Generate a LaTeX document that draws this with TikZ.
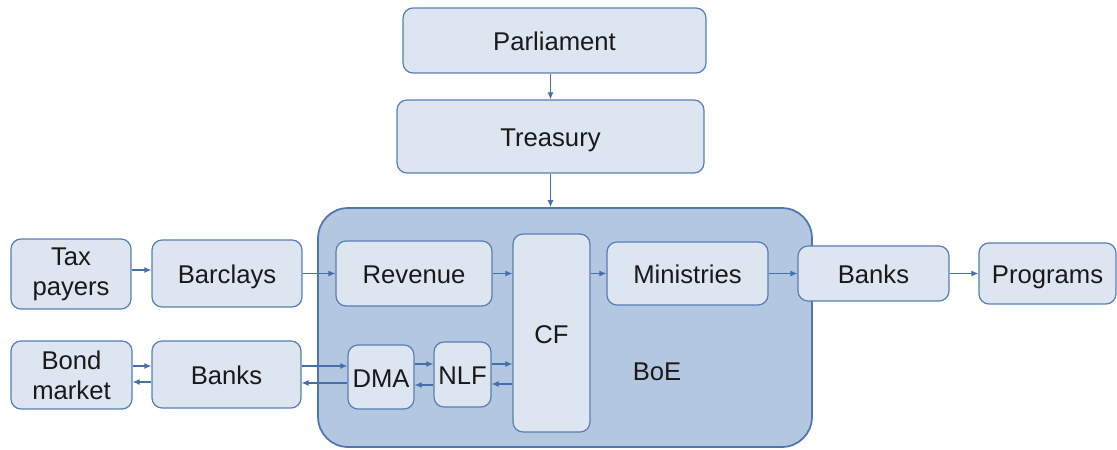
\documentclass[tikz,border=0pt]{standalone}
\usepackage{fontspec}
\setmainfont{Liberation Sans}
\usetikzlibrary{arrows.meta}

\definecolor{boxfill}{RGB}{221,229,240}
\definecolor{boxline}{RGB}{88,126,180}
\definecolor{boefill}{RGB}{180,199,224}
\definecolor{boeline}{RGB}{78,118,176}
\definecolor{flow}{RGB}{70,112,172}

\begin{document}
\begin{tikzpicture}[
  x=0.02cm, y=-0.02cm,
  >={Latex[length=4pt,width=3.5pt]},
  every node/.style={font=\fontsize{14.6}{17}\selectfont, text=black!90},
  unit/.style={draw=boxline, fill=boxfill, line width=0.7pt,
    rounded corners=0.2cm, align=center, inner sep=0pt},
  word/.style={unit, text height=13pt, text depth=1.1pt},
  flowline/.style={->, draw=flow, line width=0.7pt}
]
\useasboundingbox (0,0) rectangle (1117,450);

% ============================================================
% Bank of England (container)
% ============================================================
\node[draw=boeline, fill=boefill, line width=1pt, rounded corners=0.6cm,
  minimum width=9.88cm, minimum height=4.78cm] (boe) at (565,327.5) {};
\node (boelabel) at (657,372) {BoE};

% ============================================================
% Top: Parliament and Treasury
% ============================================================
\node[word, minimum width=6.06cm, minimum height=1.3cm] (parl) at (554.5,40.5) {Parliament};
\node[word, minimum width=6.14cm, minimum height=1.46cm] (treas) at (550.5,136.5) {Treasury};

% ============================================================
% Upper row: taxes in, spending out
% ============================================================
\node[unit, minimum width=2.4cm, minimum height=1.4cm] (tax) at (71,274) {Tax\\payers};
\node[word, minimum width=3cm, minimum height=1.34cm] (barc) at (227,273.5) {Barclays};
\node[word, minimum width=3.12cm, minimum height=1.3cm] (rev) at (414,273.5) {Revenue};
\node[word, minimum width=1.54cm, minimum height=3.96cm] (cf) at (551.5,333) {CF};
\node[word, minimum width=3.22cm, minimum height=1.26cm] (mins) at (687.5,273.5) {Ministries};
\node[word, minimum width=3.02cm, minimum height=1.1cm] (banksr) at (873.5,273.5) {Banks};
\node[word, minimum width=2.74cm, minimum height=1.22cm] (prog) at (1047.5,273.5) {Programs};

% ============================================================
% Lower row: borrowing
% ============================================================
\node[unit, minimum width=2.42cm, minimum height=1.36cm] (bond) at (71.5,375) {Bond\\market};
\node[word, minimum width=2.98cm, minimum height=1.34cm] (banksl) at (226.5,374.5) {Banks};
\node[word, minimum width=1.32cm, minimum height=1.28cm] (dma) at (381,377) {DMA};
\node[word, minimum width=1.14cm, minimum height=1.3cm] (nlf) at (462.5,374.5) {NLF};

% ============================================================
% Flows
% ============================================================
\draw[flowline] (treas.north |- parl.south) -- (treas.north);
\draw[flowline] (treas.south) -- (treas.south |- boe.north);

\draw[flowline] (tax.east |- 0,270) -- (barc.west |- 0,270);
\draw[flowline] (barc.east) -- (rev.west);
\draw[flowline] (rev.east) -- (cf.west |- rev.east);
\draw[flowline] (cf.east |- mins.west) -- (mins.west);
\draw[flowline] (mins.east) -- (banksr.west);
\draw[flowline] (banksr.east) -- (prog.west);

% two-way flows in the lower row
\draw[flowline] (bond.east |- 0,366) -- (banksl.west |- 0,366);
\draw[flowline] (banksl.west |- 0,382) -- (bond.east |- 0,382);
\draw[flowline] (banksl.east |- 0,366) -- (dma.west |- 0,366);
\draw[flowline] (dma.west |- 0,383) -- (banksl.east |- 0,383);
\draw[flowline] (dma.east |- 0,364) -- (nlf.west |- 0,364);
\draw[flowline] (nlf.west |- 0,385) -- (dma.east |- 0,385);
\draw[flowline] (nlf.east |- 0,364) -- (cf.west |- 0,364);
\draw[flowline] (cf.west |- 0,384) -- (nlf.east |- 0,384);

\end{tikzpicture}
\end{document}
